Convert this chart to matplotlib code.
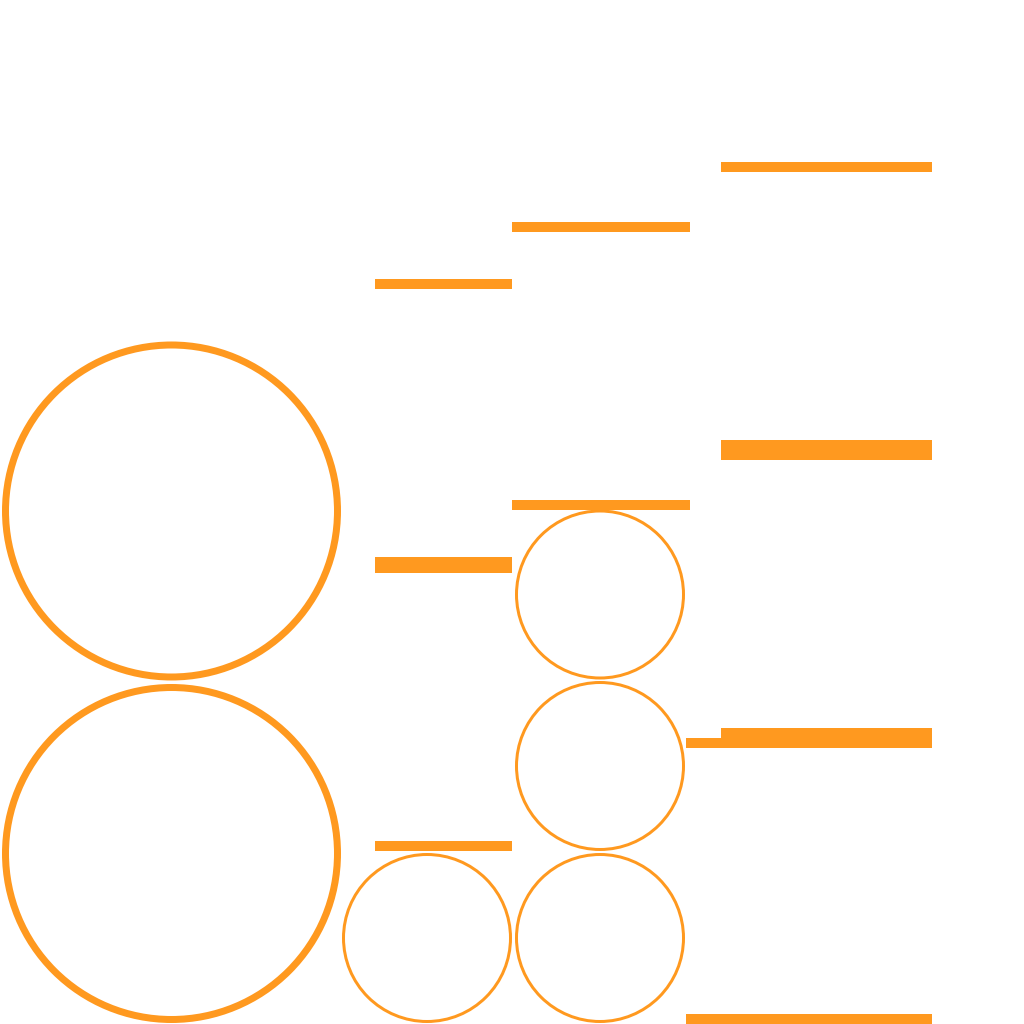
import matplotlib
matplotlib.use("Agg")
import matplotlib.pyplot as plt
from matplotlib.patches import Circle

ORANGE = "#ff991f"

bar_start = [375, 375, 375, 512, 512, 721, 721, 721, 686, 686]
bar_end = [512, 512, 512, 690, 690, 932, 932, 932, 721, 932]
bar_level = [284, 565, 846, 227, 505, 167, 450, 738, 743, 1019]
bar_weight = [10, 16, 10, 10, 10, 10, 20, 20, 10, 10]

# rings: centre x, centre y, radius, line width (px)
ring_x = [171.5, 171.5, 427, 600, 600, 600]
ring_y = [511, 853.5, 938, 594.5, 766, 938]
ring_r = [166, 166, 83.5, 83.5, 83.5, 83.5]
ring_lw = [7, 7, 3, 3, 3, 3]

px = 72 / 100  # points per pixel at dpi 100

fig = plt.figure(figsize=(10.24, 10.24), dpi=100)
ax = fig.add_axes([0, 0, 1, 1])
ax.set_xlim(0, 1024)
ax.set_ylim(1024, 0)
ax.set_aspect("equal")
ax.axis("off")

widths = [e - s for s, e in zip(bar_start, bar_end)]
ax.barh(bar_level, widths, left=bar_start, height=bar_weight,
        color=ORANGE, linewidth=0)

for x, y, r, lw in zip(ring_x, ring_y, ring_r, ring_lw):
    ax.add_patch(Circle((x, y), r, fill=False, edgecolor=ORANGE, linewidth=lw * px))

fig.savefig("out.png", dpi=100, facecolor="white")
